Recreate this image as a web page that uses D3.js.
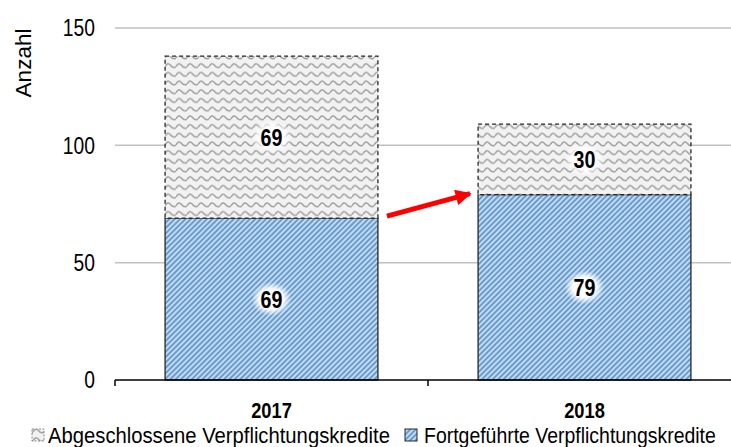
<!DOCTYPE html>
<html>
<head>
<meta charset="utf-8">
<script src="https://cdn.jsdelivr.net/npm/d3@7"></script>
<style>
  body { margin: 0; background: #fff; }
  svg { display: block; font-family: "Liberation Sans", Arial, sans-serif; }
</style>
</head>
<body>
<svg id="svg" width="731" height="447"></svg>
<script>
// Data
const years = ["2017", "2018"];
const fortgefuehrt = [69, 79];
const abgeschlossen = [69, 30];
const seriesNames = ["Abgeschlossene Verpflichtungskredite", "Fortgeführte Verpflichtungskredite"];
const yTicks = [0, 50, 100, 150];

const svg = d3.select("#svg");
const defs = svg.append("defs");

// Scales
const x = d3.scaleBand().domain(years).range([115, 741]).padding(0);
const y = d3.scaleLinear().domain([0, 150]).range([380, 28]);
const barW = x.bandwidth() * 0.68;
const barX = d => x(d) + (x.bandwidth() - barW) / 2;

// condensed text helper (reference uses a narrow font)
function narrowText(sel, px, py, sx) {
    return sel.append("g")
        .attr("transform", `translate(${px},${py}) scale(${sx},1)`)
        .append("text")
        .attr("dy", "0.36em");
}

// Blue hatch pattern
const blue = defs.append("pattern")
    .attr("id", "blueHatch")
    .attr("patternUnits", "userSpaceOnUse")
    .attr("width", 3.8).attr("height", 3.8)
    .attr("patternTransform", "rotate(45)");
blue.append("rect").attr("width", 3.8).attr("height", 3.8).attr("fill", "#c3daef");
blue.append("line")
    .attr("x1", 1).attr("y1", 0).attr("x2", 1).attr("y2", 3.8)
    .attr("stroke", "#3d7fc2").attr("stroke-width", 1.3);

// Gray wave pattern
const wave = defs.append("pattern")
    .attr("id", "grayWave")
    .attr("patternUnits", "userSpaceOnUse")
    .attr("width", 11).attr("height", 8.7);
wave.append("rect").attr("width", 11).attr("height", 8.7).attr("fill", "#f2f2f2");
wave.append("path")
    .attr("d", "M0,5.8 Q2.75,0.8 5.5,4.3 Q8.25,7.8 11,5.8")
    .attr("fill", "none").attr("stroke", "#a0a0a0").attr("stroke-width", 1.5);

// White glow behind value labels
const glow = defs.append("radialGradient").attr("id", "glow");
glow.append("stop").attr("offset", "0%").attr("stop-color", "#fff").attr("stop-opacity", 1);
glow.append("stop").attr("offset", "60%").attr("stop-color", "#fff").attr("stop-opacity", 0.95);
glow.append("stop").attr("offset", "100%").attr("stop-color", "#fff").attr("stop-opacity", 0);

// Gridlines
svg.append("g")
    .selectAll("line")
    .data(yTicks.filter(t => t > 0))
    .join("line")
    .attr("x1", 115).attr("x2", 731)
    .attr("y1", d => y(d)).attr("y2", d => y(d))
    .attr("stroke", "#c0c0c0").attr("stroke-width", 1.5);

// Y tick labels
yTicks.forEach(t => {
    narrowText(svg, 95, y(t), 0.82)
        .attr("text-anchor", "end")
        .attr("font-size", 23.5)
        .text(t);
});

// Y axis title
svg.append("text")
    .attr("transform", "translate(31,63) rotate(-90)")
    .attr("text-anchor", "middle")
    .attr("font-size", 22.5)
    .text("Anzahl");

// Bars: bottom series
svg.append("g")
    .selectAll("rect")
    .data(years)
    .join("rect")
    .attr("x", d => barX(d))
    .attr("width", barW)
    .attr("y", (d, i) => y(fortgefuehrt[i]))
    .attr("height", (d, i) => y(0) - y(fortgefuehrt[i]))
    .attr("fill", "url(#blueHatch)")
    .attr("stroke", "#262626").attr("stroke-width", 1.3);

// Bars: top series
svg.append("g")
    .selectAll("rect")
    .data(years)
    .join("rect")
    .attr("x", d => barX(d))
    .attr("width", barW)
    .attr("y", (d, i) => y(fortgefuehrt[i] + abgeschlossen[i]))
    .attr("height", (d, i) => y(fortgefuehrt[i]) - y(fortgefuehrt[i] + abgeschlossen[i]))
    .attr("fill", "url(#grayWave)")
    .attr("stroke", "#262626").attr("stroke-width", 1.3)
    .attr("stroke-dasharray", "4,3");

// Value labels
const labels = [];
years.forEach((yr, i) => {
    labels.push({ x: x(yr) + x.bandwidth() / 2, y: y(fortgefuehrt[i] / 2), v: fortgefuehrt[i] });
    labels.push({ x: x(yr) + x.bandwidth() / 2, y: y(fortgefuehrt[i] + abgeschlossen[i] / 2), v: abgeschlossen[i] });
});
const lg = svg.append("g");
labels.forEach(d => {
    lg.append("ellipse")
        .attr("cx", d.x).attr("cy", d.y)
        .attr("rx", 20).attr("ry", 17).attr("fill", "url(#glow)");
    narrowText(lg, d.x, d.y, 0.82)
        .attr("text-anchor", "middle")
        .attr("font-size", 24)
        .attr("font-weight", "bold")
        .text(d.v);
});

// X axis
const axisY = y(0);
svg.append("line")
    .attr("x1", 115).attr("x2", 741)
    .attr("y1", axisY).attr("y2", axisY)
    .attr("stroke", "#000").attr("stroke-width", 1.5);
svg.append("g")
    .selectAll("line")
    .data([115, ...years.map(d => x(d) + x.bandwidth())])
    .join("line")
    .attr("x1", d => d).attr("x2", d => d)
    .attr("y1", axisY).attr("y2", axisY + 6)
    .attr("stroke", "#000").attr("stroke-width", 1.5);
years.forEach(yr => {
    narrowText(svg, x(yr) + x.bandwidth() / 2, 410, 0.85)
        .attr("text-anchor", "middle")
        .attr("font-size", 21.5)
        .attr("font-weight", "bold")
        .text(yr);
});

// Red arrow
defs.append("marker")
    .attr("id", "arrowHead")
    .attr("viewBox", "0 0 10 10")
    .attr("refX", 9).attr("refY", 5)
    .attr("markerWidth", 3.6).attr("markerHeight", 3.2)
    .attr("orient", "auto")
    .append("path").attr("d", "M0,0 L10,5 L0,10 Z").attr("fill", "#ff0000");
svg.append("line")
    .attr("x1", barX("2017") + barW + 9).attr("y1", y(fortgefuehrt[0]) - 2)
    .attr("x2", barX("2018") - 8).attr("y2", y(fortgefuehrt[1]) - 1)
    .attr("stroke", "#ff0000").attr("stroke-width", 5)
    .attr("marker-end", "url(#arrowHead)");

// Legend
const legend = [
    { name: seriesNames[0], fill: "url(#grayWave)", dash: "2,1.5", x: 32, tx: 48, sx: 0.9 },
    { name: seriesNames[1], fill: "url(#blueHatch)", dash: null, x: 405, tx: 424, sx: 0.865 }
];
legend.forEach(d => {
    svg.append("rect")
        .attr("x", d.x).attr("y", 429).attr("width", 12).attr("height", 12)
        .attr("fill", d.fill)
        .attr("stroke", d.dash ? "#888" : "#262626")
        .attr("stroke-width", 1)
        .attr("stroke-dasharray", d.dash);
    narrowText(svg, d.tx, 434.5, d.sx)
        .attr("font-size", 22.5)
        .text(d.name);
});
</script>
</body>
</html>
